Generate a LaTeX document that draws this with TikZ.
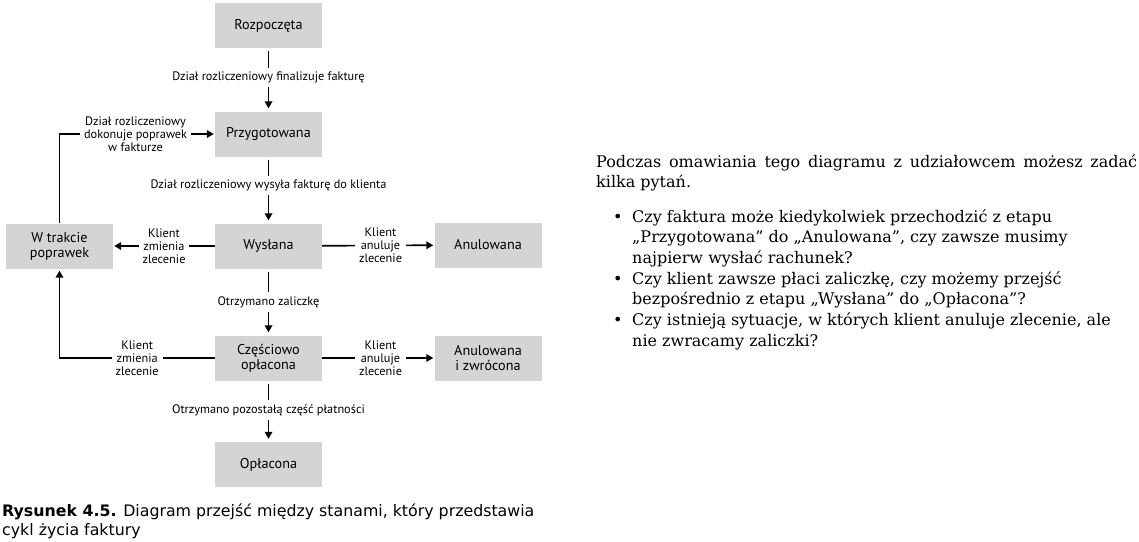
\documentclass[tikz,border=0pt]{standalone}
\usepackage{fontspec}
\setmainfont{DejaVu Serif}
\newfontfamily\diagfont{PT Sans}
\newfontfamily\capfont{DejaVu Sans}
\usetikzlibrary{arrows.meta}
\definecolor{boxgray}{RGB}{212,212,212}
\newcommand{\toplines}[1]{\parbox[t]{540pt}{\raggedright #1}}
\tikzset{
  state/.style={fill=boxgray, minimum width=107pt, minimum height=45pt,
    inner sep=0pt, align=center, font=\diagfont\fontsize{14.2}{15}\selectfont},
  trans/.style={fill=white, inner xsep=4pt, inner ysep=4pt, align=center,
    font=\diagfont\fontsize{12.3}{13}\selectfont},
  flow/.style={line width=1.7pt, -{Triangle[length=7pt,width=7.5pt]}},
  body/.style={anchor=base west, inner sep=0pt,
    font=\fontsize{16}{20.7}\selectfont},
}
\begin{document}
\begin{tikzpicture}[x=1pt,y=-1pt]
\useasboundingbox (0,0) rectangle (1139,541);
% states
\node[state] (start) at (268.5,25.5) {Rozpoczęta};
\node[state] (prep) at (268.5,134) {Przygotowana};
\node[state] (sent) at (268.5,246) {Wysłana};
\node[state] (fix) at (59.5,246) {W trakcie\\poprawek};
\node[state] (void) at (488,245) {Anulowana};
\node[state] (part) at (268.5,358) {Częściowo\\opłacona};
\node[state] (refund) at (488,358) {Anulowana\\i zwrócona};
\node[state] (paid) at (268.5,464.5) {Opłacona};
% transitions
\draw[flow, shorten <=3pt, shorten >=3pt] (start) -- (prep)
  node[trans, pos=0.46] {Dział rozliczeniowy finalizuje fakturę};
\draw[flow, shorten <=3pt, shorten >=3pt] (prep) -- (sent)
  node[trans, pos=0.43] {Dział rozliczeniowy wysyła fakturę do klienta};
\draw[flow, shorten <=3pt, shorten >=3pt] (sent) -- (part)
  node[trans, pos=0.5] {Otrzymano zaliczkę};
\draw[flow, shorten <=3pt, shorten >=3pt] (part) -- (paid)
  node[trans, pos=0.48] {Otrzymano pozostałą część płatności};
\draw[flow, shorten >=1pt] (sent) -- (fix)
  node[trans, pos=0.5] {Klient\\zmienia\\zlecenie};
\draw[flow, shorten >=1pt] (sent) -- (void)
  node[trans, pos=0.52] {Klient\\anuluje\\zlecenie};
\draw[flow, shorten >=1pt] (part) -- (refund)
  node[trans, pos=0.52] {Klient\\anuluje\\zlecenie};
\draw[flow, shorten >=2pt] (part) -- (fix |- part)
  node[trans, pos=0.5] {Klient\\zmienia\\zlecenie} -- (fix);
\draw[flow, shorten >=1pt] (fix) -- (fix |- prep)
  -- (prep) node[trans, pos=0.49] {Dział rozliczeniowy\\dokonuje poprawek\\w fakturze};
% text on the right
\node[body] (intro) at (596,167) {\toplines{%
  \makebox[541pt][s]{Podczas omawiania tego diagramu z udziałowcem możesz zadać}\\
  kilka pytań.}};
\node[body] (dot1) at (613,222) {•};
\node[body] (q1) at (632,222) {\toplines{Czy faktura może kiedykolwiek przechodzić z etapu\\
  „Przygotowana” do „Anulowana”, czy zawsze musimy\\najpierw wysłać rachunek?}};
\node[body] (dot2) at (613,284.1) {•};
\node[body] (q2) at (632,284.1) {\toplines{Czy klient zawsze płaci zaliczkę, czy możemy przejść\\
  bezpośrednio z etapu „Wysłana” do „Opłacona”?}};
\node[body] (dot3) at (613,325.5) {•};
\node[body] (q3) at (632,325.5) {\toplines{Czy istnieją sytuacje, w których klient anuluje zlecenie, ale\\
  nie zwracamy zaliczki?}};
% caption
\node[anchor=base west, inner sep=0pt,
  font=\capfont\fontsize{15.8}{19}\selectfont] (cap) at (2,516)
  {\toplines{\textbf{Rysunek 4.5.} Diagram przejść między stanami, który przedstawia\\
   cykl życia faktury}};
\end{tikzpicture}
\end{document}
